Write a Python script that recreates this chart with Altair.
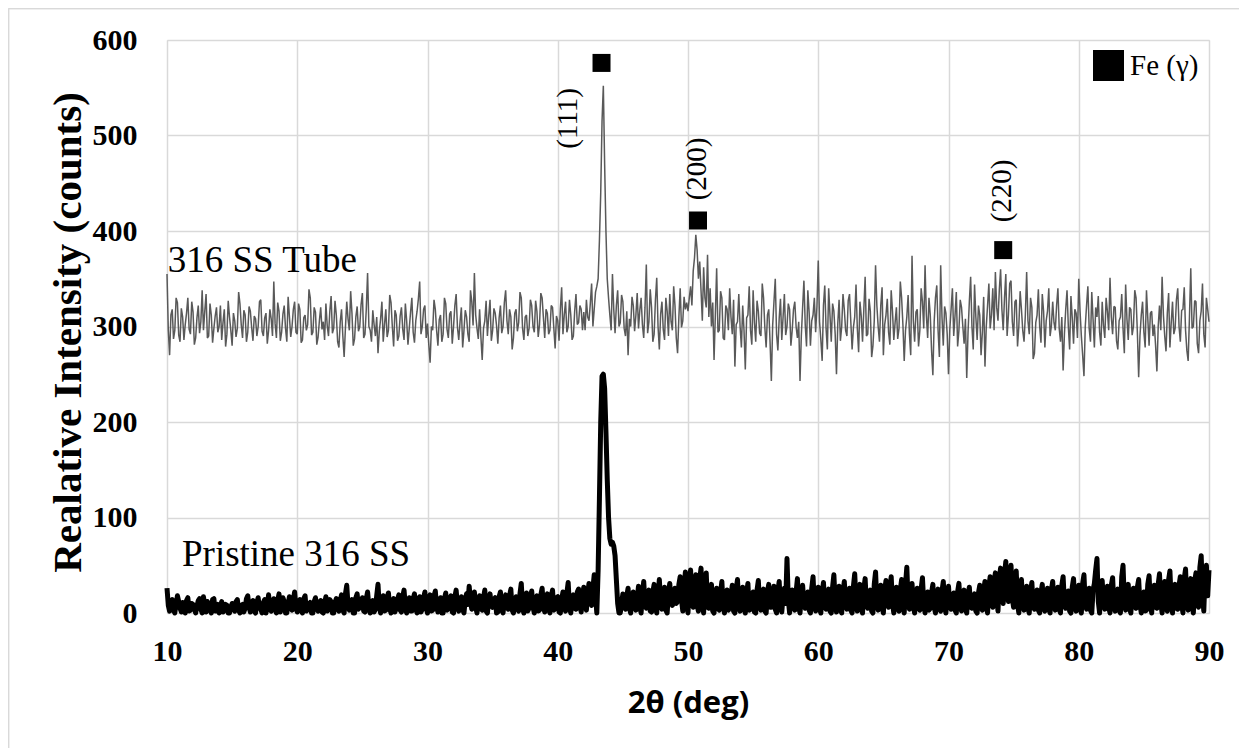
import altair as alt
import pandas as pd

# XRD scan grid (instrument settings)
SCAN_START = 10.0
SCAN_STEP = 0.1

# 316 SS Tube (grey trace), 10.0 .. 90.0 deg, one row = 4 deg
tube_counts = [
    355, 296, 270, 312, 318, 287, 296, 330, 325, 291, 284, 319, 310, 286, 302, 314, 330, 297, 292, 326,
    315, 281, 288, 309, 322, 293, 305, 338, 296, 316, 334, 288, 290, 324, 312, 283, 298, 311, 320, 294,
    300, 322, 286, 304, 318, 279, 292, 327, 310, 296, 280, 314, 306, 289, 298, 336, 324, 302, 288, 317,
    312, 284, 294, 321, 316, 299, 285, 311, 308, 290, 300, 326, 328, 295, 290, 309, 314, 282, 296, 318,
    308, 290, 347, 303, 288, 325, 316, 285, 294, 313, 322, 298, 284, 331, 310, 289, 300, 318, 326, 294,
    292, 324, 318, 283, 286, 309, 312, 296, 302, 339, 330, 291, 294, 320, 315, 281, 289, 306, 320, 297,
    305, 286, 324, 301, 290, 316, 332, 293, 298, 327, 312, 284, 278, 305, 318, 290, 268, 299, 326, 308,
    296, 337, 314, 280, 287, 310, 321, 295, 300, 323, 335, 288, 292, 318, 356, 300, 296, 284, 317, 302,
    290, 310, 272, 295, 308, 326, 284, 302, 318, 289, 296, 333, 325, 300, 279, 317, 312, 285, 290, 311,
    320, 297, 286, 324, 306, 281, 298, 315, 330, 294, 283, 306, 316, 329, 347, 292, 300, 318, 322, 288,
    303, 281, 262, 300, 296, 328, 318, 296, 280, 307, 312, 284, 292, 330, 324, 297, 288, 313, 316, 282,
    300, 322, 334, 299, 286, 305, 320, 278, 296, 317, 310, 292, 284, 338, 326, 301, 356, 312, 298, 287,
    318, 289, 265, 298, 306, 327, 290, 311, 328, 285, 296, 319, 314, 301, 282, 309, 322, 293, 300, 325,
    338, 306, 292, 318, 310, 276, 288, 314, 318, 295, 304, 336, 330, 298, 286, 310, 312, 290, 298, 328,
    322, 300, 294, 327, 316, 289, 302, 335, 330, 309, 288, 318, 314, 292, 296, 322, 320, 298, 277, 311,
    306, 285, 318, 341, 292, 312, 326, 294, 300, 328, 312, 286, 290, 316, 334, 302, 304, 322, 318, 296,
    315, 296, 328, 310, 306, 324, 345, 300, 318, 336, 342, 350, 390, 440, 515, 552, 470, 400, 350, 330,
    312, 296, 355, 318, 293, 322, 338, 300, 304, 333, 326, 298, 290, 316, 270, 308, 300, 331, 322, 295,
    312, 335, 298, 317, 330, 302, 288, 320, 365, 293, 305, 339, 320, 284, 292, 328, 351, 300, 276, 313,
    326, 297, 286, 330, 316, 290, 334, 305, 296, 342, 322, 288, 272, 310, 340, 299, 306, 331, 318, 325,
    316, 330, 342, 322, 358, 372, 396, 380, 350, 368, 338, 306, 362, 330, 320, 375, 310, 340, 300, 325,
    265, 312, 361, 294, 296, 337, 330, 288, 286, 322, 318, 296, 340, 310, 292, 328, 258, 302, 305, 334,
    300, 278, 322, 296, 255, 309, 312, 342, 296, 281, 338, 304, 284, 327, 316, 293, 290, 345, 330, 299,
    278, 312, 318, 284, 243, 301, 326, 350, 292, 275, 308, 329, 286, 310, 334, 291, 300, 324, 318, 280,
    296, 318, 326, 300, 288, 305, 243, 290, 320, 348, 302, 279, 338, 315, 280, 306, 312, 330, 294, 321,
    369, 305, 286, 264, 322, 343, 298, 276, 340, 312, 284, 324, 316, 292, 250, 303, 328, 285, 300, 334,
    318, 296, 290, 327, 334, 305, 276, 299, 310, 344, 298, 273, 326, 311, 284, 318, 352, 290, 292, 329,
    316, 268, 280, 306, 364, 322, 300, 284, 322, 341, 270, 302, 312, 329, 294, 281, 338, 316, 286, 304,
    320, 287, 298, 347, 330, 302, 264, 296, 310, 333, 292, 270, 374, 306, 284, 315, 318, 279, 296, 340,
    326, 298, 364, 312, 288, 330, 312, 275, 249, 305, 330, 343, 296, 268, 364, 310, 280, 321, 314, 292,
    250, 297, 318, 340, 290, 311, 336, 279, 296, 328, 320, 300, 282, 308, 246, 294, 326, 352, 300, 276,
    344, 310, 286, 322, 312, 270, 294, 331, 258, 300, 322, 345, 298, 312, 340, 296, 357, 320, 306, 338,
    360, 318, 296, 330, 355, 290, 312, 345, 348, 305, 290, 326, 328, 279, 300, 337, 318, 296, 284, 312,
    357, 306, 292, 330, 320, 266, 272, 304, 312, 339, 300, 283, 334, 316, 278, 306, 316, 340, 290, 301,
    326, 304, 296, 322, 340, 298, 284, 310, 254, 292, 318, 338, 300, 276, 332, 309, 282, 318, 314, 288,
    350, 316, 290, 270, 248, 300, 322, 342, 298, 284, 336, 307, 278, 320, 310, 332, 294, 280, 326, 301,
    288, 330, 316, 296, 351, 310, 292, 321, 320, 285, 276, 306, 310, 334, 298, 272, 344, 308, 286, 320,
    318, 291, 300, 338, 330, 294, 247, 290, 312, 326, 294, 278, 338, 309, 280, 314, 316, 290, 302, 280,
    253, 300, 322, 296, 352, 312, 290, 274, 314, 335, 278, 304, 326, 292, 298, 328, 340, 300, 284, 317,
    318, 341, 296, 275, 264, 310, 361, 298, 300, 327, 326, 282, 272, 306, 316, 345, 292, 278, 330, 318,
    305,
]

# Pristine 316 SS (black trace), 10.0 .. 90.0 deg, one row = 4 deg
pristine_counts = [
    26, 8, 2, 11, 14, 3, 0, 9, 18, 12, 5, 1, 11, 6, 0, 13, 16, 2, 3, 10,
    9, 4, 0, 7, 13, 15, 4, 0, 17, 8, 1, 12, 10, 3, 0, 14, 15, 2, 6, 9,
    0, 7, 12, 1, 3, 9, 8, 0, 0, 6, 10, 4, 2, 12, 14, 3, 0, 8, 9, 1,
    5, 15, 18, 6, 1, 10, 13, 2, 0, 11, 16, 5, 4, 0, 11, 14, 0, 7, 19, 4,
    2, 9, 15, 4, 0, 13, 20, 1, 6, 16, 12, 0, 0, 10, 17, 7, 3, 14, 22, 5,
    1, 11, 14, 3, 0, 15, 18, 2, 5, 9, 11, 0, 0, 12, 16, 6, 2, 10, 13, 1,
    0, 10, 17, 2, 4, 14, 12, 0, 0, 11, 15, 6, 2, 13, 19, 3, 0, 20, 29, 8,
    3, 12, 14, 0, 0, 16, 20, 4, 6, 10, 16, 2, 1, 15, 22, 7, 0, 9, 13, 1,
    4, 18, 30, 6, 0, 12, 18, 2, 3, 16, 21, 5, 0, 11, 15, 1, 5, 14, 19, 3,
    1, 17, 24, 6, 0, 10, 16, 2, 2, 15, 20, 4, 0, 12, 17, 1, 4, 16, 22, 5,
    0, 13, 19, 2, 3, 18, 23, 6, 1, 12, 16, 0, 0, 15, 21, 3, 5, 14, 18, 1,
    0, 17, 24, 7, 2, 11, 17, 4, 0, 14, 20, 9, 28, 12, 4, 15, 22, 6, 0, 10,
    18, 5, 3, 16, 24, 2, 0, 13, 20, 8, 6, 14, 16, 0, 1, 17, 22, 4, 0, 12,
    19, 7, 4, 18, 25, 3, 0, 11, 17, 6, 2, 20, 31, 5, 0, 15, 21, 2, 5, 17,
    23, 6, 0, 14, 18, 2, 3, 19, 26, 7, 1, 15, 20, 4, 0, 18, 24, 3, 5, 16,
    17, 1, 0, 14, 22, 8, 2, 21, 32, 6, 0, 13, 19, 5, 4, 22, 25, 7, 1, 18,
    27, 9, 3, 20, 31, 12, 8, 26, 40, 18, 0, 45, 120, 200, 248, 250, 235, 190, 140, 100,
    78, 72, 74, 70, 60, 35, 10, 0, 0, 10, 20, 6, 4, 18, 26, 5, 0, 14, 22, 8,
    3, 15, 28, 6, 0, 20, 33, 9, 5, 18, 24, 2, 1, 22, 30, 7, 0, 19, 35, 10,
    4, 16, 27, 3, 0, 21, 31, 13, 8, 18, 26, 10, 12, 30, 38, 14, 2, 28, 43, 9,
    0, 30, 45, 12, 6, 28, 40, 8, 2, 35, 47, 10, 0, 31, 42, 6, 5, 22, 30, 2,
    0, 18, 26, 5, 3, 21, 33, 7, 0, 15, 24, 3, 6, 19, 29, 2, 0, 25, 35, 8,
    2, 18, 27, 5, 0, 21, 31, 3, 4, 16, 22, 1, 0, 24, 34, 8, 3, 19, 25, 2,
    0, 22, 30, 6, 6, 17, 28, 4, 0, 23, 33, 7, 1, 18, 26, 10, 57, 14, 0, 12,
    24, 8, 3, 22, 36, 6, 0, 18, 29, 10, 5, 15, 22, 3, 0, 26, 38, 9, 2, 19,
    27, 5, 0, 21, 32, 8, 4, 17, 25, 2, 0, 27, 40, 11, 1, 20, 28, 4, 0, 22,
    33, 10, 4, 19, 26, 3, 0, 28, 41, 12, 2, 22, 30, 5, 0, 25, 36, 8, 5, 18,
    24, 2, 0, 30, 43, 11, 3, 20, 29, 6, 0, 24, 34, 9, 6, 27, 38, 10, 0, 19,
    27, 6, 2, 24, 35, 8, 0, 30, 48, 12, 4, 20, 31, 7, 0, 18, 26, 5, 3, 25,
    37, 9, 0, 16, 22, 3, 5, 21, 30, 6, 0, 17, 25, 4, 2, 23, 33, 8, 0, 19,
    28, 7, 4, 16, 21, 3, 0, 22, 31, 9, 2, 17, 24, 5, 0, 19, 27, 6, 5, 14,
    20, 2, 0, 21, 29, 7, 3, 24, 33, 8, 0, 28, 38, 12, 6, 33, 42, 15, 2, 36,
    47, 22, 10, 40, 54, 18, 12, 38, 50, 15, 6, 30, 44, 9, 0, 25, 35, 8, 3, 20,
    28, 5, 0, 22, 32, 7, 4, 16, 24, 3, 0, 21, 30, 6, 2, 18, 26, 4, 0, 24,
    33, 9, 3, 20, 27, 4, 0, 29, 38, 10, 5, 16, 23, 2, 0, 27, 36, 8, 2, 22,
    29, 5, 0, 31, 40, 9, 4, 19, 26, 3, 0, 24, 31, 45, 57, 12, 0, 26, 34, 10,
    4, 20, 28, 6, 0, 29, 37, 8, 2, 18, 25, 3, 0, 38, 50, 12, 3, 22, 30, 5,
    0, 20, 26, 7, 5, 27, 35, 9, 0, 16, 22, 2, 3, 30, 39, 10, 0, 21, 29, 6,
    5, 30, 41, 10, 0, 25, 33, 6, 2, 35, 44, 12, 0, 22, 30, 5, 4, 29, 38, 9,
    0, 36, 46, 11, 3, 27, 36, 8, 0, 33, 42, 14, 6, 48, 60, 20, 2, 40, 50, 18,
    45,
]

tube_theta = [round(SCAN_START + SCAN_STEP * i, 1) for i in range(len(tube_counts))]
pristine_theta = [round(SCAN_START + SCAN_STEP * i, 1) for i in range(len(pristine_counts))]

# Fe (gamma) reflections
peak_labels = ["(111)", "(200)", "(220)"]
marker_theta = [43.36, 50.77, 74.2]
marker_counts = [576, 411, 380]
label_theta = [40.8, 50.7, 74.1]
label_counts = [518, 465, 442]
phase_name = "Fe (γ)"

# sample names
sample_names = ["316 SS Tube", "Pristine 316 SS"]
sample_theta = [10.05, 11.15]
sample_counts = [357, 49]

tube_df = pd.DataFrame({"theta": tube_theta, "counts": tube_counts})
pristine_df = pd.DataFrame({"theta": pristine_theta, "counts": pristine_counts})
marker_df = pd.DataFrame({"theta": marker_theta, "counts": marker_counts,
                          "phase": [phase_name] * len(marker_theta)})
label_df = pd.DataFrame({"theta": label_theta, "counts": label_counts, "label": peak_labels})
name_df = pd.DataFrame({"theta": sample_theta, "counts": sample_counts, "name": sample_names})

SERIF = "Liberation Serif"
W, H = 1042, 573
xs = alt.Scale(domain=[10, 90], nice=False, zero=False)
ys = alt.Scale(domain=[0, 600], nice=False)

x_axis = alt.Axis(values=list(range(10, 91, 10)), title="2θ (deg)", grid=True,
                  gridColor="#d9d9d9", gridWidth=1.5, ticks=False, domain=False,
                  labelFont=SERIF, labelFontWeight="bold", labelFontSize=30,
                  labelColor="black", labelPadding=23, labelFlush=False,
                  titleFont="Open Sans", titleFontWeight="bold", titleFontSize=31,
                  titleColor="black", titleY=90, titleBaseline="middle")
y_axis = alt.Axis(values=list(range(0, 601, 100)), title="Realative Intensity (counts)",
                  grid=True, gridColor="#d9d9d9", gridWidth=1.5, ticks=False, domain=False,
                  labelFont=SERIF, labelFontWeight="bold", labelFontSize=30,
                  labelColor="black", labelPadding=30, labelFlush=False,
                  titleFont=SERIF, titleFontWeight="bold", titleFontSize=41,
                  titleColor="black", titleAngle=270, titleX=-99, titleY=292,
                  titleAlign="center", titleBaseline="middle")

tube = alt.Chart(tube_df).mark_line(color="#595959", strokeWidth=1.5, strokeJoin="bevel").encode(
    x=alt.X("theta:Q", scale=xs, axis=x_axis),
    y=alt.Y("counts:Q", scale=ys, axis=y_axis),
)
pristine = alt.Chart(pristine_df).mark_line(color="black", strokeWidth=5, strokeJoin="round").encode(
    x=alt.X("theta:Q", scale=xs),
    y=alt.Y("counts:Q", scale=ys),
)
markers = alt.Chart(marker_df).mark_point(shape="square", filled=True, size=324, opacity=1).encode(
    x=alt.X("theta:Q", scale=xs),
    y=alt.Y("counts:Q", scale=ys),
    color=alt.Color("phase:N", scale=alt.Scale(domain=[phase_name], range=["black"]),
                    legend=alt.Legend(title=None, orient="none", legendX=926, legendY=10,
                                      symbolType="square", symbolSize=961, symbolStrokeWidth=0,
                                      symbolOpacity=1, labelFont=SERIF,
                                      labelFontSize=29, labelColor="black", labelOffset=6,
                                      padding=0)),
)
labels = alt.Chart(label_df).mark_text(font=SERIF, fontSize=29, angle=270,
                                       align="center", baseline="middle", color="black").encode(
    x=alt.X("theta:Q", scale=xs),
    y=alt.Y("counts:Q", scale=ys),
    text="label:N",
)
names = alt.Chart(name_df).mark_text(font=SERIF, fontSize=37, align="left",
                                     baseline="alphabetic", color="black").encode(
    x=alt.X("theta:Q", scale=xs),
    y=alt.Y("counts:Q", scale=ys),
    text="name:N",
)
frame_top = alt.Chart(name_df).mark_rule(color="#d9d9d9", strokeWidth=1.5).encode(
    x=alt.value(-158.5), x2=alt.value(1100), y=alt.value(-31.5))
frame_left = alt.Chart(name_df).mark_rule(color="#d9d9d9", strokeWidth=1.5).encode(
    x=alt.value(-158.5), y=alt.value(-31.5), y2=alt.value(720))

chart = alt.layer(frame_top, frame_left, tube, pristine, markers, labels, names).properties(
    width=W, height=H,
    autosize=alt.AutoSizeParams(type="none"),
    padding={"left": 159, "top": 32, "right": 30, "bottom": 135},
).configure_view(stroke=None).configure(background="white")

chart.save("out.html", embed_options={"renderer": "svg", "actions": False})
